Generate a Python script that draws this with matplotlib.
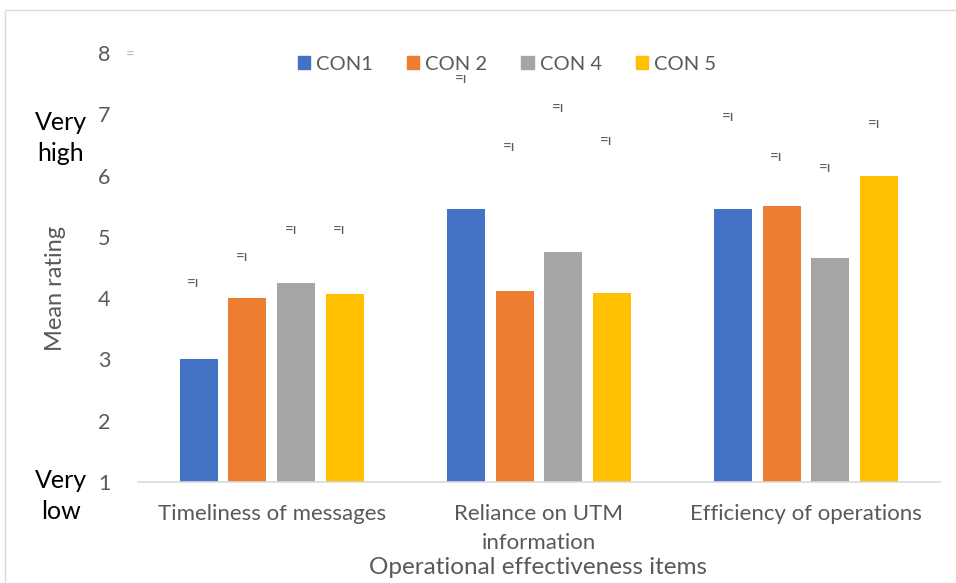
import matplotlib
matplotlib.use("Agg")
import matplotlib.pyplot as plt
import matplotlib.patches as mpatches
import numpy as np

CATEGORIES = ["Timeliness of messages", "Reliance on UTM\ninformation", "Efficiency of operations"]
SERIES = ["CON1", "CON 2", "CON 4", "CON 5"]
COLORS = ["#4472C4", "#ED7D31", "#A5A5A5", "#FFC000"]

CON1 = [3.0, 5.45, 5.45]
CON2 = [4.0, 4.12, 5.5]
CON4 = [4.25, 4.75, 4.65]
CON5 = [4.07, 4.08, 6.0]

# positions of the small garbled "=ı" labels above each bar
MARK_Y = [
    [4.24, 7.57, 6.95],
    [4.68, 6.46, 6.31],
    [5.12, 7.11, 6.13],
    [5.12, 6.56, 6.85],
]

plt.rcParams["font.family"] = ["Lato", "DejaVu Sans"]
TXT = "#595959"

fig = plt.figure(figsize=(9.56, 5.83), dpi=100)
ax = fig.add_axes([0.1444, 0.1732, 0.8386, 0.7358])

# outer chart border (top and left visible)
fig.add_artist(mpatches.Rectangle((5 / 956, -0.01), 1.0, 1 - 10 / 583 + 0.01,
                                  transform=fig.transFigure, fill=False,
                                  edgecolor="#D9D9D9", linewidth=1.0))

values = [CON1, CON2, CON4, CON5]
x = np.arange(len(CATEGORIES))
step = 0.182
width = 0.142
for i, (vals, col, name) in enumerate(zip(values, COLORS, SERIES)):
    offs = (i - 1.5) * step
    ax.bar(x + offs, np.array(vals) - 1, bottom=1, width=width, color=col, label=name)
    for xi, my in zip(x, MARK_Y[i]):
        ax.text(xi + offs - 0.02, my, "=ı", ha="center", va="center",
                fontsize=11, color="#595959")

ax.text(-0.5 - 0.03, 7.95, "=", ha="center", va="center", fontsize=11, color="#BFBFBF")

ax.set_xlim(-0.5, 2.5)
ax.set_ylim(1, 8)
ax.set_yticks(range(1, 9))
ax.tick_params(axis="y", length=0, labelsize=15.5, labelcolor=TXT, pad=20)
ax.set_xticks(x)
ax.set_xticklabels(CATEGORIES, fontsize=16, color=TXT, linespacing=1.55, va="top")
ax.tick_params(axis="x", length=0, pad=16)

for s in ["top", "right", "left"]:
    ax.spines[s].set_visible(False)
ax.spines["bottom"].set_color("#D9D9D9")
ax.spines["bottom"].set_linewidth(1.2)

fig.text(538 / 956, 1 - 567 / 583, "Operational effectiveness items", ha="center", va="center",
         fontsize=17.5, color=TXT)
fig.text(55 / 956, 1 - 288 / 583, "Mean rating", rotation=90, ha="center", va="center",
         fontsize=17, color=TXT)
fig.text(61 / 956, 1 - 138 / 583, "Very\nhigh", ha="center", va="center",
         fontsize=18, color="black", linespacing=1.4)
fig.text(61 / 956, 1 - 496 / 583, "Very\nlow", ha="center", va="center",
         fontsize=18, color="black", linespacing=1.4)

handles = [mpatches.Patch(color=c, label=n) for c, n in zip(COLORS, SERIES)]
fig.legend(handles=handles, loc="center", bbox_to_anchor=(507 / 956, 1 - 64 / 583),
           ncol=4, frameon=False, fontsize=14.5, labelcolor=TXT,
           handlelength=0.6, handleheight=0.6, handletextpad=0.3, columnspacing=1.7)

fig.savefig("out.png", dpi=100)
